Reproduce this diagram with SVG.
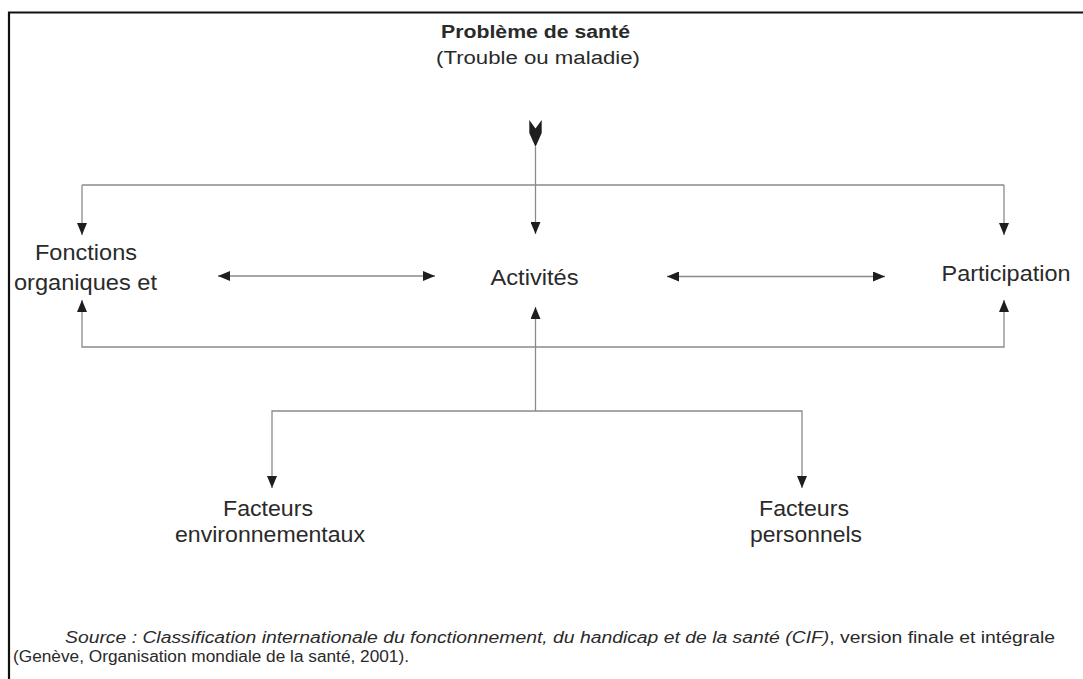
<svg xmlns="http://www.w3.org/2000/svg" width="1083" height="679" viewBox="0 0 1083 679">
<style>
.t{font-family:"Liberation Sans",Arial,sans-serif;fill:#2a2a2a;font-size:21.5px}
.b{font-weight:bold;font-size:18px}
.s{font-size:18px}
.src{font-size:16px}
.ln{stroke:#8a8a8a;stroke-width:1.3;fill:none}
.ah{fill:#1e1e1e}
</style>
<defs>
<marker id="a" viewBox="0 0 12 10" refX="12" refY="5" markerWidth="12" markerHeight="10" markerUnits="userSpaceOnUse" orient="auto-start-reverse">
<path d="M0,0 L12,5 L0,10 Z" class="ah"/>
</marker>
</defs>
<rect width="1083" height="679" fill="#fff"/>
<g id="frame">
<path d="M9,679 V12.5 H1083" stroke="#111" stroke-width="2.2" fill="none"/>
</g>
<g id="connectors">
<path class="ln" d="M535.5,147 V234" marker-end="url(#a)"/>
<path class="ln" d="M82,185 H1004"/>
<path class="ln" d="M82,185 V235" marker-end="url(#a)"/>
<path class="ln" d="M1004,185 V235" marker-end="url(#a)"/>
<path class="ln" d="M218,276 H435" marker-start="url(#a)" marker-end="url(#a)"/>
<path class="ln" d="M667,276.5 H885" marker-start="url(#a)" marker-end="url(#a)"/>
<path class="ln" d="M82,300 V347 H1004 V300" marker-start="url(#a)" marker-end="url(#a)"/>
<path class="ln" d="M535.5,411 V307" marker-end="url(#a)"/>
<path class="ln" d="M272,488 V411 H802 V488" marker-start="url(#a)" marker-end="url(#a)"/>
<polygon class="ah" points="529.3,120 535.5,128.5 541.7,120 541.7,133 535.5,147 529.3,133"/>
</g>
<g id="node-probleme">
<text class="t b" x="535.5" y="38" text-anchor="middle" textLength="189" lengthAdjust="spacingAndGlyphs">Problème de santé</text>
<text class="t s" x="538" y="64" text-anchor="middle" textLength="204" lengthAdjust="spacingAndGlyphs">(Trouble ou maladie)</text>
</g>
<g id="node-fonctions">
<text class="t" x="86" y="260" text-anchor="middle" textLength="102" lengthAdjust="spacingAndGlyphs">Fonctions</text>
<text class="t" x="85.5" y="290" text-anchor="middle" textLength="143" lengthAdjust="spacingAndGlyphs">organiques et</text>
</g>
<g id="node-activites">
<text class="t" x="534.5" y="285" text-anchor="middle" textLength="88" lengthAdjust="spacingAndGlyphs">Activités</text>
</g>
<g id="node-participation">
<text class="t" x="1006" y="281" text-anchor="middle" textLength="129" lengthAdjust="spacingAndGlyphs">Participation</text>
</g>
<g id="node-env">
<text class="t" x="268" y="516" text-anchor="middle" textLength="90" lengthAdjust="spacingAndGlyphs">Facteurs</text>
<text class="t" x="270" y="542" text-anchor="middle" textLength="190" lengthAdjust="spacingAndGlyphs">environnementaux</text>
</g>
<g id="node-pers">
<text class="t" x="804" y="516" text-anchor="middle" textLength="90" lengthAdjust="spacingAndGlyphs">Facteurs</text>
<text class="t" x="806" y="542" text-anchor="middle" textLength="112" lengthAdjust="spacingAndGlyphs">personnels</text>
</g>
<g id="source">
<text class="t src" x="65" y="643" textLength="990" lengthAdjust="spacingAndGlyphs"><tspan font-style="italic">Source : Classification internationale du fonctionnement, du handicap et de la santé (CIF)</tspan>, version finale et intégrale</text>
<text class="t src" x="13" y="662" textLength="396" lengthAdjust="spacingAndGlyphs">(Genève, Organisation mondiale de la santé, 2001).</text>
</g>
</svg>
